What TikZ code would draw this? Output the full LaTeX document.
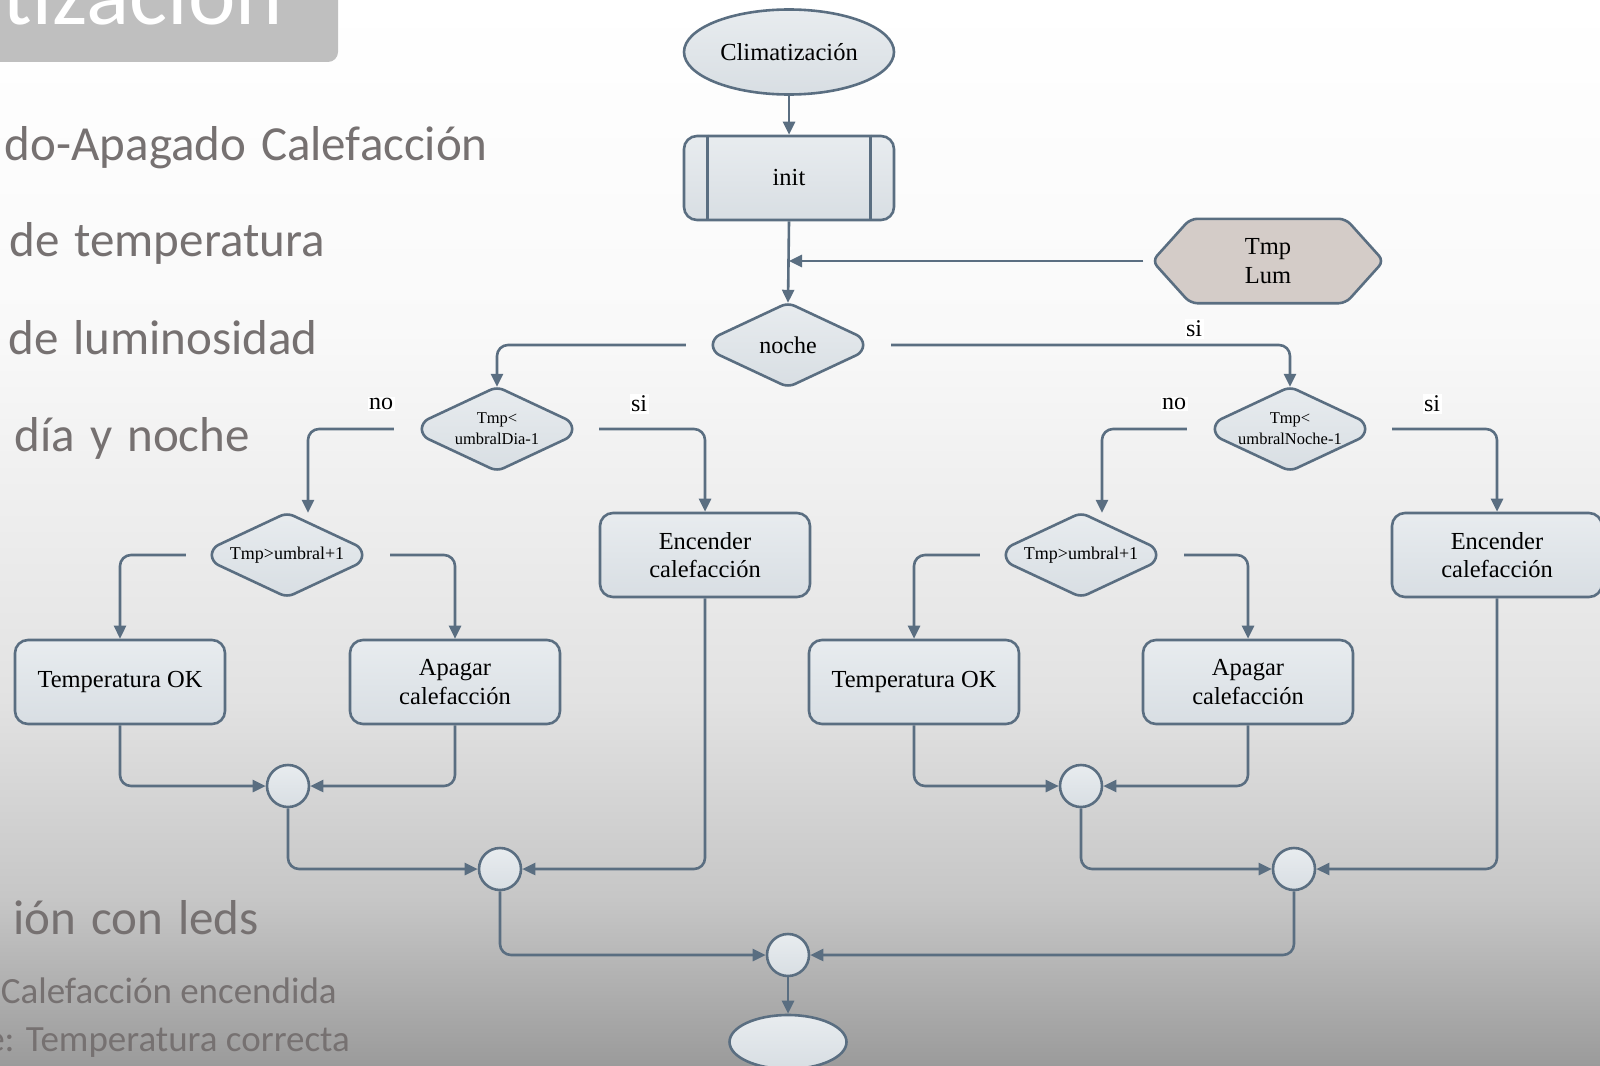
\documentclass[tikz,border=0pt]{standalone}
\usepackage{fontspec}
\setmainfont{Liberation Serif}
\newfontfamily\slidefont{Carlito}
\usetikzlibrary{shapes.geometric, arrows.meta, calc}

\definecolor{edgecol}{HTML}{5A6E81}
\definecolor{fillA}{HTML}{E8ECEF}
\definecolor{fillB}{HTML}{D8DEE3}
\definecolor{hexfill}{HTML}{D4CCC8}
\definecolor{slidetext}{HTML}{767171}
\definecolor{titlebox}{HTML}{BFBFBF}
\definecolor{bgA}{HTML}{FFFFFF}
\definecolor{bgB}{HTML}{F9F9F9}
\definecolor{bgC}{HTML}{E2E2E2}
\definecolor{bgD}{HTML}{C6C6C6}
\definecolor{bgE}{HTML}{9B9B9B}

\newcommand\fsz[2]{\fontsize{#1}{#2}\selectfont}
% decision outline: a diamond with short vertical flanks, drawn around an empty node
\newcommand\decisionpath[1]{%
  \draw[outline, rounded corners=7pt, top color=fillA, bottom color=fillB]
    (#1.north) -- ([yshift=7pt]#1.east) -- ([yshift=-7pt]#1.east) -- (#1.south)
    -- ([yshift=-7pt]#1.west) -- ([yshift=7pt]#1.west) -- cycle;}

\begin{document}
\begin{tikzpicture}[x=1pt,y=-1pt,
  outline/.style={draw=edgecol, line width=2.6pt},
  flow/.style={outline, rounded corners=11pt, -{Triangle[length=13pt,width=12pt]}},
  box/.style={outline, rectangle, rounded corners=13pt, top color=fillA, bottom color=fillB,
    minimum width=210pt, minimum height=84pt, inner sep=0pt, align=center, font=\fsz{24.5}{28.5}},
  terminal/.style={outline, ellipse, top color=fillA, bottom color=fillB, inner sep=0pt, font=\fsz{24.5}{28.5}},
  dbox/.style={minimum width=150pt, minimum height=84pt, inner sep=0pt},
  dtext/.style={align=center, font=\fsz{16.5}{21}, inner sep=0pt},
  junction/.style={outline, circle, top color=fillA, bottom color=fillB, minimum size=42pt, inner sep=0pt},
  tag/.style={fill=white, inner sep=1.5pt, font=\fsz{24}{28}},
  bullet/.style={text=slidetext, font={\slidefont\fsz{49}{59}\spaceskip=15pt plus 2pt minus 2pt\relax},
    inner sep=0pt, anchor=base east},
  subbullet/.style={text=slidetext, font=\slidefont\fsz{37}{44}, inner sep=0pt, anchor=base east},
]
\useasboundingbox (0,0) rectangle (1600,1065);

% slide background
\shade[top color=bgA, bottom color=bgB] (0,0) rectangle (1600,331);
\shade[top color=bgB, bottom color=bgC] (0,330) rectangle (1600,701);
\shade[top color=bgC, bottom color=bgD] (0,700) rectangle (1600,901);
\shade[top color=bgD, bottom color=bgE] (0,900) rectangle (1600,1065);

% title bar and bullet text
\fill[titlebox, rounded corners=10pt] (-30,-30) rectangle (338,62);
\node[text=white, font=\slidefont\fsz{90}{100}, anchor=base east, inner sep=0pt] (title) at (283,25) {tización};
\node[bullet] (b1) at (488,160) {do-Apagado Calefacción};
\node[bullet] (b2) at (325,256) {de temperatura};
\node[bullet] (b3) at (318,354) {de luminosidad};
\node[bullet] (b4) at (250,451) {día y noche};
\node[bullet] (b5) at (259,934) {ión con leds};
\node[subbullet] (b6) at (337,1003) {Calefacción encendida};
\node[subbullet] (b7) at (350,1051) {e: Temperatura correcta};

% main column
\node[terminal, minimum width=210pt, minimum height=85pt] (start) at (789,52) {Climatización};
\node[box] (init) at (789,178) {init};
\draw[outline] ([xshift=25pt]init.north west) -- ([xshift=25pt]init.south west);
\draw[outline] ([xshift=-25pt]init.north east) -- ([xshift=-25pt]init.south east);

% sensor input
\path (1268,261) node[minimum width=231pt, minimum height=84pt, inner sep=0pt] (io) {};
\draw[outline, fill=hexfill, rounded corners=7pt] (io.west) -- ([xshift=38pt]io.north west)
  -- ([xshift=-38pt]io.north east) -- (io.east) -- ([xshift=-38pt]io.south east)
  -- ([xshift=38pt]io.south west) -- cycle;
\node[align=center, font=\fsz{24.5}{28.5}, inner sep=0pt] (iotext) at (io) {Tmp\\Lum};

% decisions
\node[dbox] (noche) at (788,345) {};
\node[dbox] (dia) at (497,429) {};
\node[dbox] (hiA) at (287,555) {};
\node[dbox] (nc) at (1290,429) {};
\node[dbox] (hiB) at (1081,555) {};
\decisionpath{noche}
\decisionpath{dia}
\decisionpath{hiA}
\decisionpath{nc}
\decisionpath{hiB}
\node[font=\fsz{24}{28}, inner sep=0pt] (nochetext) at (noche) {noche};
\node[dtext] (diatext) at (dia) {Tmp<\\umbralDia-1};
\node[dtext, font=\fsz{18}{22}] (hiAtext) at (hiA) {Tmp>umbral+1};
\node[dtext] (nctext) at (nc) {Tmp<\\umbralNoche-1};
\node[dtext, font=\fsz{18}{22}] (hiBtext) at (hiB) {Tmp>umbral+1};

% actions, day branch
\node[box] (encA) at (705,555) {Encender\\calefacción};
\node[box] (okA) at (120,682) {Temperatura OK};
\node[box] (offA) at (455,682) {Apagar\\calefacción};

% actions, night branch
\node[box] (encB) at (1497,555) {Encender\\calefacción};
\node[box] (okB) at (914,682) {Temperatura OK};
\node[box] (offB) at (1248,682) {Apagar\\calefacción};

% merge points and end
\node[junction] (jA) at (288,786) {};
\node[junction] (jB) at (500,869) {};
\node[junction] (jC) at (1081,786) {};
\node[junction] (jD) at (1294,869) {};
\node[junction] (jE) at (788,955) {};
\node[terminal, minimum width=117pt, minimum height=54pt] (stop) at (788,1042) {};

% connectors
\draw[flow] (start.south) -- (init.north);
\draw[flow] (init.south) -- (noche.north);
\draw[flow] ([xshift=-9pt]io.west) -- (init.south |- io.west);

\draw[flow] ([xshift=-27pt]noche.west) -| (dia.north);
\draw[flow] ([xshift=28pt]noche.east) -| (nc.north);

\draw[flow] ([xshift=-28pt]dia.west) -| ([xshift=21pt]hiA.north);
\draw[flow] ([xshift=27pt]dia.east) -| (encA.north);
\draw[flow] ([xshift=-26pt]hiA.west) -| (okA.north);
\draw[flow] ([xshift=28pt]hiA.east) -| (offA.north);
\draw[flow] (okA.south) |- (jA.west);
\draw[flow] (offA.south) |- (jA.east);
\draw[flow] (jA.south) |- (jB.west);
\draw[flow] (encA.south) |- (jB.east);

\draw[flow] ([xshift=-28pt]nc.west) -| ([xshift=21pt]hiB.north);
\draw[flow] ([xshift=27pt]nc.east) -| (encB.north);
\draw[flow] ([xshift=-26pt]hiB.west) -| (okB.north);
\draw[flow] ([xshift=28pt]hiB.east) -| (offB.north);
\draw[flow] (okB.south) |- (jC.west);
\draw[flow] (offB.south) |- (jC.east);
\draw[flow] (jC.south) |- (jD.west);
\draw[flow] (encB.south) |- (jD.east);

\draw[flow] (jB.south) |- (jE.west);
\draw[flow] (jD.south) |- (jE.east);
\draw[flow] (jE.south) -- (stop.north);

% branch labels
\node[tag] (siN) at (1194,329) {si};
\node[tag] (noA) at (381,404) {no};
\node[tag] (siA) at (639,404) {si};
\node[tag] (noB) at (1174,404) {no};
\node[tag] (siB) at (1432,404) {si};
\end{tikzpicture}
\end{document}
